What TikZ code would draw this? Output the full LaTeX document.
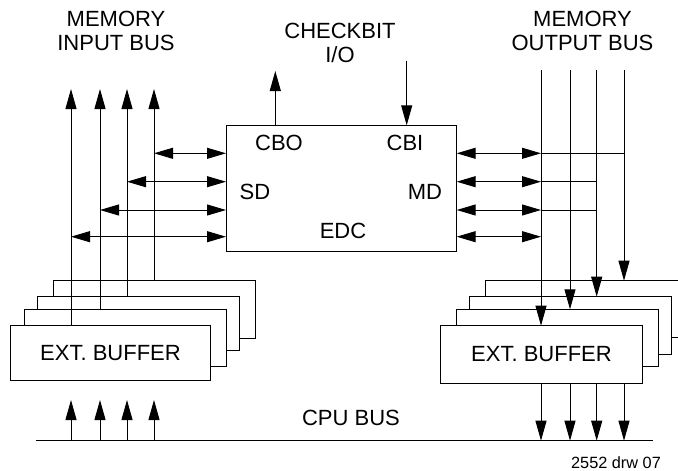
\documentclass[tikz,border=0pt]{standalone}
\usepackage{fontspec}
\setmainfont{Liberation Sans}
\usetikzlibrary{arrows.meta}
\tikzset{
  ln/.style={line width=1pt},
  arr/.style={ln,-{Triangle[length=20pt,width=11pt]}},
  darr/.style={ln,{Triangle[length=19pt,width=11pt]}-{Triangle[length=19pt,width=11pt]}},
  buf/.style={draw,line width=1pt,fill=white,inner sep=0pt,outer sep=0pt,anchor=north west,
    font=\fontsize{22}{24}\selectfont},
  lbl/.style={font=\fontsize{22}{23.5}\selectfont,align=center,inner sep=0pt},
  small/.style={font=\fontsize{16.3}{17}\selectfont,inner sep=0pt}
}
\begin{document}
\begin{tikzpicture}[x=1pt,y=-1pt]
\useasboundingbox (0,0) rectangle (678,471);
\clip (0,0) rectangle (678,471);

% labels
\node[lbl] (tin) at (116,31) {MEMORY\\INPUT BUS};
\node[lbl] (tcb) at (340,43) {CHECKBIT\\I/O};
\node[lbl] (tout) at (582.5,31) {MEMORY\\OUTPUT BUS};

% EDC block
\node[draw,ln,inner sep=0pt,outer sep=0pt,anchor=north west,minimum width=230.7pt,minimum height=126.4pt] (edc) at (226,125.3) {};
\node[lbl] (cbo) at (279,143) {CBO};
\node[lbl] (cbi) at (405,143) {CBI};
\node[lbl] (sd) at (255,192) {SD};
\node[lbl] (md) at (425,192) {MD};
\node[lbl] (edct) at (343,231) {EDC};

% left buffers (back to front)
\node[buf,minimum width=201.7pt,minimum height=57.6pt] (L4) at (53.3,280.7) {};
\node[buf,minimum width=201.7pt,minimum height=54pt] (L3) at (37.3,296.7) {};
\node[buf,minimum width=202.4pt,minimum height=57.4pt] (L2) at (24.3,309.3) {};
\node[buf,minimum width=200.4pt,minimum height=54.3pt] (L1) at (10.3,325.7) {EXT. BUFFER};

% right buffers (back to front)
\node[buf,minimum width=202pt,minimum height=57pt] (R4) at (485,280.7) {};
\node[buf,minimum width=202pt,minimum height=57.3pt] (R3) at (469,296.7) {};
\node[buf,minimum width=201.6pt,minimum height=57.4pt] (R2) at (456.7,309.3) {};
\node[buf,minimum width=201.6pt,minimum height=57.6pt] (R1) at (440.7,325.7) {EXT. BUFFER};

% coordinates
\coordinate (li1) at (71,89);
\coordinate (li2) at (100,89);
\coordinate (li3) at (127,89);
\coordinate (li4) at (154,89);
\coordinate (ro1) at (541,70);
\coordinate (ro2) at (570,70);
\coordinate (ro3) at (596.7,70);
\coordinate (ro4) at (624,70);
\coordinate (cboT) at (275.3,71);
\coordinate (cbiT) at (406.7,60.7);
\coordinate (h1) at (0,153.3);
\coordinate (h2) at (0,181.7);
\coordinate (h3) at (0,210);
\coordinate (h4) at (0,236.7);
\coordinate (cpuL) at (35.7,440.7);
\coordinate (cpuR) at (653.3,440.7);
\coordinate (cpuT) at (0,400);

% memory input bus
\draw[arr] (li1 |- L1.north) -- (li1);
\draw[arr] (li2 |- L2.north) -- (li2);
\draw[arr] (li3 |- L3.north) -- (li3);
\draw[arr] (li4 |- L4.north) -- (li4);

% left bidirectional
\draw[darr] (li4 |- h1) -- (edc.west |- h1);
\draw[darr] (li3 |- h2) -- (edc.west |- h2);
\draw[darr] (li2 |- h3) -- (edc.west |- h3);
\draw[darr] (li1 |- h4) -- (edc.west |- h4);

% checkbit I/O
\draw[arr] (cboT |- edc.north) -- (cboT);
\draw[arr] (cbiT) -- (cbiT |- edc.north);

% memory output bus
\draw[arr] (ro1) -- (ro1 |- R1.north);
\draw[arr] (ro2) -- (ro2 |- R2.north);
\draw[arr] (ro3) -- (ro3 |- R3.north);
\draw[arr] (ro4) -- (ro4 |- R4.north);

% right bidirectional
\draw[darr] (edc.east |- h1) -- (ro1 |- h1);
\draw[darr] (edc.east |- h2) -- (ro1 |- h2);
\draw[darr] (edc.east |- h3) -- (ro1 |- h3);
\draw[darr] (edc.east |- h4) -- (ro1 |- h4);
\draw[ln] (ro1 |- h1) -- (ro4 |- h1);
\draw[ln] (ro1 |- h2) -- (ro3 |- h2);
\draw[ln] (ro1 |- h3) -- (ro3 |- h3);

% CPU bus
\draw[ln] (cpuL) -- (cpuR);
\node[lbl] (tcpu) at (351,418) {CPU BUS};
\draw[arr] (li1 |- cpuL) -- (li1 |- cpuT);
\draw[arr] (li2 |- cpuL) -- (li2 |- cpuT);
\draw[arr] (li3 |- cpuL) -- (li3 |- cpuT);
\draw[arr] (li4 |- cpuL) -- (li4 |- cpuT);
\draw[arr] (ro1 |- R1.south) -- (ro1 |- cpuL);
\draw[arr] (ro2 |- R1.south) -- (ro2 |- cpuL);
\draw[arr] (ro3 |- R1.south) -- (ro3 |- cpuL);
\draw[arr] (ro4 |- R1.south) -- (ro4 |- cpuL);

\node[small] (drw) at (616,462.5) {2552 drw 07};
\end{tikzpicture}
\end{document}
